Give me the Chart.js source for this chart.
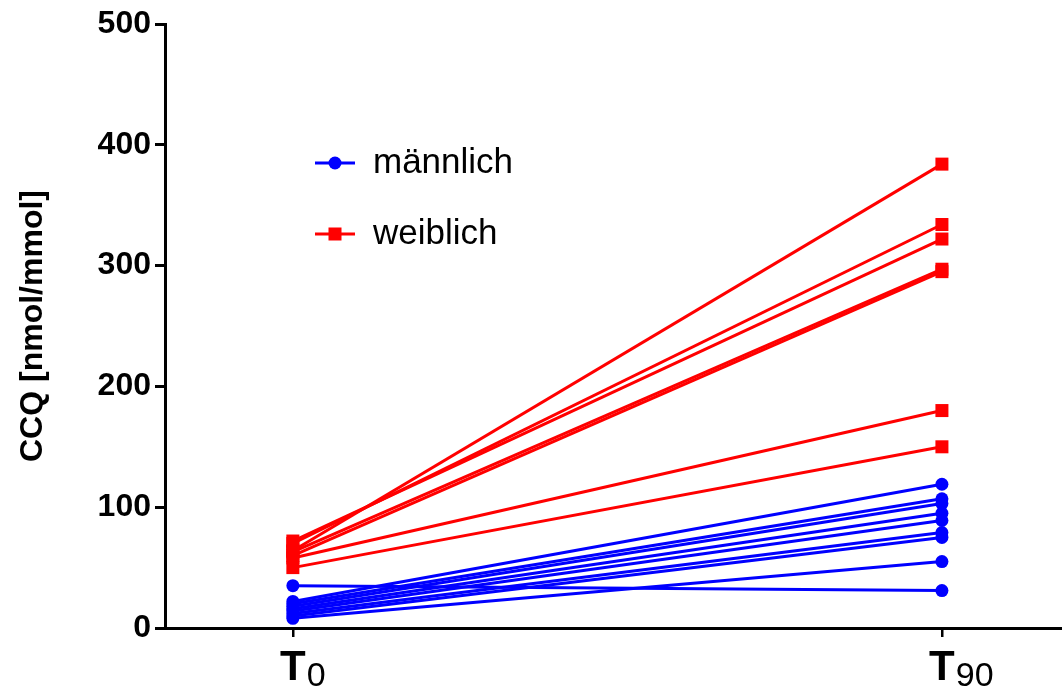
<!DOCTYPE html>
<html><head><meta charset="utf-8">
<script src="https://cdn.jsdelivr.net/npm/chart.js@4"></script>
<style>html,body{margin:0;padding:0;background:#fff}#wrap{width:1062px;height:693px;position:relative}</style>
</head><body><div id="wrap"><canvas id="c"></canvas></div>
<script>
// ---- data ----
const timeMain = ['T', 'T'];
const timeSub = ['0', '90'];
const timeValues = [0, 1];
const yTicks = [0, 100, 200, 300, 400, 500];
const seriesNames = ['männlich', 'weiblich'];
const maleT0 = [22, 20, 18, 16, 14, 12, 10, 8, 35];
const maleT90 = [119, 107, 103, 95, 89, 79, 75, 55, 31];
const femaleT0 = [64, 70, 72, 63, 60, 58, 50];
const femaleT90 = [384, 334, 322, 297, 295, 180, 150];
const yTitle = 'CCQ [nmol/mmol]';

const BLUE = '#0000ff', RED = '#ff0000';
const datasets = [];
maleT0.forEach((v, i) => datasets.push({
  label: seriesNames[0], group: 0,
  data: [{x: timeValues[0], y: v}, {x: timeValues[1], y: maleT90[i]}],
  borderColor: BLUE, backgroundColor: BLUE, borderWidth: 3,
  pointStyle: 'circle', pointRadius: 6.5, pointBorderWidth: 0, pointHoverRadius: 6.5
}));
femaleT0.forEach((v, i) => datasets.push({
  label: seriesNames[1], group: 1,
  data: [{x: timeValues[0], y: v}, {x: timeValues[1], y: femaleT90[i]}],
  borderColor: RED, backgroundColor: RED, borderWidth: 3,
  pointStyle: 'rect', pointRadius: 9.2, pointBorderWidth: 0, pointHoverRadius: 9.2
}));

const customDraw = {
  id: 'customDraw',
  afterDraw(chart) {
    const ctx = chart.ctx, xs = chart.scales.x;
    ctx.save();
    ctx.fillStyle = '#000';
    ctx.textBaseline = 'alphabetic';
    timeValues.forEach((v, i) => {
      const px = xs.getPixelForValue(v);
      ctx.font = 'bold 42px "Liberation Sans", Arial, sans-serif';
      const tw = ctx.measureText(timeMain[i]).width;
      ctx.textAlign = 'left';
      ctx.fillText(timeMain[i], px - tw / 2, 680);
      ctx.font = '34px "Liberation Sans Narrow", "Liberation Sans", Arial, sans-serif';
      ctx.fillText(timeSub[i], px + tw / 2 + 1, 686);
    });
    // legend
    const items = [
      {name: seriesNames[0], color: BLUE, style: 'circle', y: 163},
      {name: seriesNames[1], color: RED, style: 'rect', y: 234}
    ];
    items.forEach(it => {
      ctx.strokeStyle = it.color; ctx.lineWidth = 3;
      ctx.beginPath(); ctx.moveTo(315, it.y); ctx.lineTo(355, it.y); ctx.stroke();
      ctx.fillStyle = it.color;
      if (it.style === 'circle') { ctx.beginPath(); ctx.arc(335, it.y, 6.5, 0, Math.PI * 2); ctx.fill(); }
      else { ctx.fillRect(328.5, it.y - 6.5, 13, 13); }
      ctx.fillStyle = '#000';
      ctx.font = '35px "Liberation Sans", Arial, sans-serif';
      ctx.textAlign = 'left'; ctx.textBaseline = 'middle';
      ctx.fillText(it.name, 373, it.y);
    });
    ctx.restore();
  }
};

new Chart(document.getElementById('c'), {
  type: 'line',
  data: {datasets},
  options: {
    responsive: true, maintainAspectRatio: false, animation: false,
    layout: {autoPadding: false, padding: {left: 0, right: 0, top: 24, bottom: 0}},
    plugins: {legend: {display: false}, tooltip: {enabled: false}},
    scales: {
      x: {
        type: 'linear', min: -0.197, max: 1.185,
        afterBuildTicks: s => { s.ticks = timeValues.map(v => ({value: v})); },
        afterFit: s => { s.height = 65; },
        ticks: {display: false},
        grid: {drawOnChartArea: false, drawTicks: true, tickLength: 9, lineWidth: 2.5, color: '#000'},
        border: {display: true, width: 3, color: '#000'}
      },
      y: {
        type: 'linear', min: 0, max: 500,
        afterBuildTicks: s => { s.ticks = yTicks.map(v => ({value: v})); },
        afterFit: s => { s.width = 165; },
        ticks: {color: '#000', font: {family: '"Liberation Sans", Arial, sans-serif', size: 32, weight: 'bold'}, padding: 4},
        grid: {drawOnChartArea: false, drawTicks: true, tickLength: 10, lineWidth: 3, color: '#000'},
        border: {display: true, width: 3, color: '#000'},
        title: {display: true, text: yTitle, color: '#000', font: {family: '"Liberation Sans", Arial, sans-serif', size: 32, weight: 'bold'}, padding: {top: 14, bottom: 0}}
      }
    }
  },
  plugins: [customDraw]
});
</script></body></html>
